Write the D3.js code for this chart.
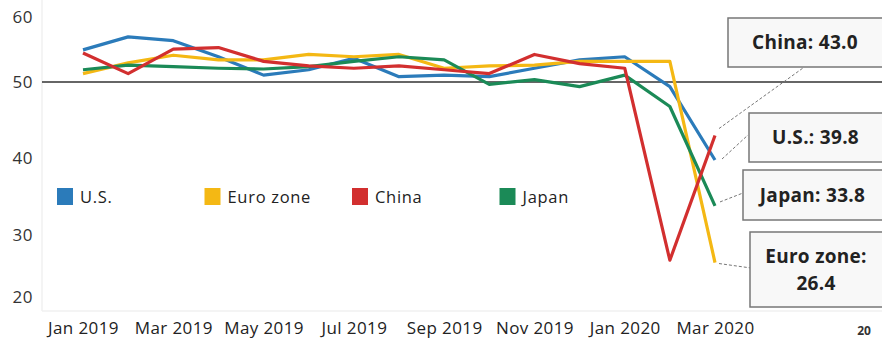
<!DOCTYPE html>
<html>
<head>
<meta charset="utf-8">
<script src="https://cdnjs.cloudflare.com/ajax/libs/d3/7.8.5/d3.min.js"></script>
<style>
body{margin:0;background:#fff;}
text{font-family:"Open Sans",sans-serif;fill:#222;}
</style>
</head>
<body>
<div id="chart"></div>
<script>
var months = ["Jan 2019","Feb 2019","Mar 2019","Apr 2019","May 2019","Jun 2019","Jul 2019","Aug 2019",
    "Sep 2019","Oct 2019","Nov 2019","Dec 2019","Jan 2020","Feb 2020","Mar 2020"];
var tickMonths = ["Jan 2019","Mar 2019","May 2019","Jul 2019","Sep 2019","Nov 2019","Jan 2020","Mar 2020"];
var yTicks = [20,30,40,50,60];

var usValues    = [54.2,55.9,55.4,53.3,50.9,51.6,53.1,50.7,50.9,50.7,51.8,52.9,53.3,49.4,39.8];
var euroValues  = [51.1,52.5,53.5,52.9,52.9,53.6,53.3,53.6,51.8,52.1,52.2,52.7,52.7,52.7,26.4];
var chinaValues = [53.8,51.1,54.3,54.5,52.7,52.1,51.8,52.1,51.6,51.1,53.6,52.4,51.8,26.7,43.0];
var japanValues = [51.6,52.2,52.0,51.8,51.7,52.0,52.7,53.3,52.9,49.7,50.3,49.4,50.9,46.8,33.8];

var seriesNames = ["U.S.","Euro zone","China","Japan"];
var seriesColors = ["#2b7bba","#f4b814","#d22f2f","#1b8a57"];
var seriesValues = [usValues,euroValues,chinaValues,japanValues];

// callout boxes, drawn in this order
var calloutNames = ["China","U.S.","Japan","Euro zone"];
var calloutLabels = [["China: 43.0"],["U.S.: 39.8"],["Japan: 33.8"],["Euro zone:","26.4"]];

var WIDTH = 882, HEIGHT = 341;

var svg = d3.select("#chart").append("svg")
    .attr("width",WIDTH)
    .attr("height",HEIGHT);

var xscale = d3.scalePoint().domain(months).range([83,715]);
var yscale = d3.scaleLinear().domain([20,60]).range([311.5,5.5]);

// faint frame
svg.append("line").attr("x1",42).attr("x2",42).attr("y1",0).attr("y2",311)
    .attr("stroke","#f0f0f0").attr("stroke-width",1.5);
svg.append("line").attr("x1",42).attr("x2",WIDTH).attr("y1",311).attr("y2",311)
    .attr("stroke","#f0f0f0").attr("stroke-width",1.5);

// y tick labels, kept inside the plot at the ends
svg.append("g").selectAll("text")
    .data(yTicks)
    .enter().append("text")
    .attr("x",33)
    .attr("y",function(d){ return Math.max(17,Math.min(297,yscale(d))); })
    .attr("dy","0.35em")
    .attr("text-anchor","end")
    .attr("font-size",17)
    .style("letter-spacing","0.5px")
    .style("fill","#333")
    .text(function(d){ return d; });

// x axis labels
var xaxis = d3.axisBottom(xscale).tickValues(tickMonths).tickSize(0).tickPadding(0);
var xg = svg.append("g").attr("transform","translate(0,322)").call(xaxis);
xg.select(".domain").remove();
xg.selectAll("text")
    .attr("font-size",17)
    .attr("font-family","Open Sans, sans-serif")
    .style("letter-spacing","0.4px")
    .style("fill","#222");

// reference line at 50
svg.append("line")
    .attr("x1",42).attr("x2",WIDTH)
    .attr("y1",yscale(50)).attr("y2",yscale(50))
    .attr("stroke","#333").attr("stroke-width",1.5);

var line = d3.line()
    .x(function(d,i){ return xscale(months[i]); })
    .y(function(d){ return yscale(d); });

// lines: US first, then euro, china on top of green
var drawOrder = [0,1,3,2];
drawOrder.forEach(function(k){
    svg.append("path")
        .datum(seriesValues[k])
        .attr("fill","none")
        .attr("stroke",seriesColors[k])
        .attr("stroke-width",3.2)
        .attr("stroke-linejoin","round")
        .attr("d",line);
});

// legend
var legend = svg.append("g").selectAll("g")
    .data(seriesNames)
    .enter().append("g")
    .attr("transform",function(d,i){ return "translate("+(57+i*147.5)+",188)"; });
legend.append("rect")
    .attr("width",16).attr("height",17)
    .attr("fill",function(d,i){ return seriesColors[i]; });
legend.append("text")
    .attr("x",23).attr("y",9)
    .attr("dy","0.35em")
    .attr("font-size",16.5)
    .style("letter-spacing","0.7px")
    .text(function(d){ return d; });

// callouts
var boxTop = [18,113,170,232];
var boxBottom = [67,162,220,307];
var boxLeft = [728,749,743,750];
var anchorPts = [[803,68],[748,135],[743,193],[751,268]];
var startOffsets = [[4,-7],[7,-1],[5,-4],[4,1]];

calloutNames.forEach(function(name,k){
    var s = seriesNames.indexOf(name);
    var vals = seriesValues[s];
    var last = vals[vals.length-1];
    var px = xscale(months[months.length-1]);
    var py = yscale(last);

    svg.append("line")
        .attr("x1",px+startOffsets[k][0]).attr("y1",py+startOffsets[k][1])
        .attr("x2",anchorPts[k][0]).attr("y2",anchorPts[k][1])
        .attr("stroke","#777").attr("stroke-width",1)
        .attr("stroke-dasharray","3,2");

    svg.append("rect")
        .attr("x",boxLeft[k]).attr("y",boxTop[k])
        .attr("width",WIDTH+4-boxLeft[k]).attr("height",boxBottom[k]-boxTop[k])
        .attr("fill","#f8f8f8")
        .attr("stroke","#777").attr("stroke-width",1.5);

    var lines = calloutLabels[k];
    var cx = (boxLeft[k]+WIDTH)/2;
    var cy = (boxTop[k]+boxBottom[k])/2;
    lines.forEach(function(t,j){
        svg.append("text")
            .attr("x",cx)
            .attr("y",cy+(j-(lines.length-1)/2)*27)
            .attr("dy","0.35em")
            .attr("text-anchor","middle")
            .attr("font-size",19)
            .attr("font-weight","bold")
            .style("letter-spacing","0.3px")
            .text(t);
    });
});

// page number, bottom right
svg.append("text")
    .attr("x",864).attr("y",335)
    .attr("text-anchor","middle")
    .attr("font-size",12)
    .attr("font-weight","bold")
    .style("fill","#333")
    .text("20");
</script>
</body>
</html>
